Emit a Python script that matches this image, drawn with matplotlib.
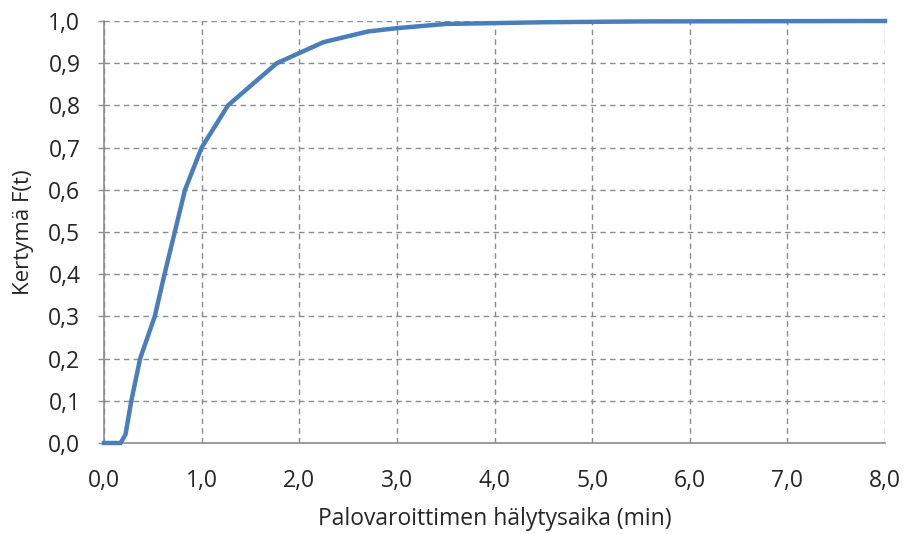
import matplotlib
matplotlib.use("Agg")
from matplotlib import pyplot as plt
from matplotlib.ticker import FuncFormatter
import numpy as np

# time (min) and cumulative distribution F(t)
t = [0.0, 0.17, 0.22, 0.28, 0.37, 0.52, 0.62, 0.83, 1.0, 1.27, 1.77,
     2.25, 2.7, 3.0, 3.5, 4.5, 5.5, 8.0]
F = [0.0, 0.0, 0.02, 0.1, 0.2, 0.3, 0.4, 0.6, 0.7, 0.8, 0.9,
     0.95, 0.975, 0.983, 0.993, 0.997, 0.999, 1.0]

x_ticks = np.arange(0, 8.01, 1.0)
y_ticks = np.arange(0, 1.001, 0.1)

plt.rcParams['font.family'] = ['Open Sans', 'DejaVu Sans']
text_c = '#262626'

fig = plt.figure(figsize=(9.05, 5.34), dpi=100)
ax = fig.add_axes([104 / 905, 91 / 534, 781 / 905, 422 / 534])

ax.plot(t, F, '-', c='#4A7EBB', lw=3.2, solid_joinstyle='miter', zorder=5,
        clip_on=False)

ax.set_xlim(0, 8)
ax.set_ylim(0, 1)
ax.set_xticks(x_ticks)
ax.set_yticks(y_ticks)
comma = FuncFormatter(lambda v, p: f'{v:.1f}'.replace('.', ','))
ax.xaxis.set_major_formatter(comma)
ax.yaxis.set_major_formatter(comma)

ax.grid(color='#8c8c8c', linestyle=(0, (4, 3)), linewidth=1.0)
for s in ['top', 'right']:
    ax.spines[s].set_visible(False)
for s in ['left', 'bottom']:
    ax.spines[s].set_color('#8c8c8c')
    ax.spines[s].set_linewidth(1.2)
ax.tick_params(color='#8c8c8c', width=1, labelsize=16.5, labelcolor=text_c)
ax.tick_params(axis='x', length=0, pad=19)
ax.tick_params(axis='y', length=4, pad=13)

ax.set_xlabel('Palovaroittimen hälytysaika (min)', fontsize=16.5,
              color=text_c)
ax.set_ylabel('Kertymä F(t)', fontsize=16, color=text_c)
ax.xaxis.set_label_coords(0.5, -0.152)
ax.yaxis.set_label_coords(-0.09, 0.5)

fig.savefig('out.png', dpi=100)
